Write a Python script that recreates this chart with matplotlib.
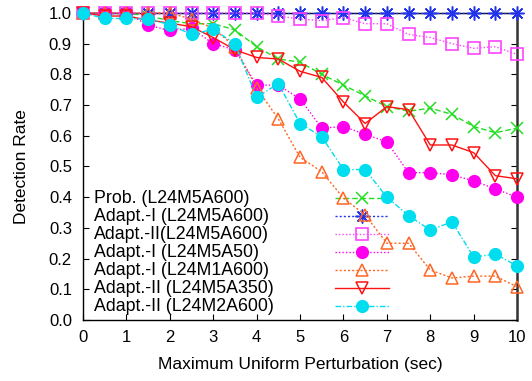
import matplotlib
matplotlib.use("Agg")

import matplotlib.pyplot as plt

plt.rcParams["font.family"] = ["Liberation Sans", "DejaVu Sans"]

x = [0, 0.5, 1, 1.5, 2, 2.5, 3, 3.5, 4, 4.5, 5, 5.5, 6, 6.5, 7, 7.5, 8, 8.5, 9, 9.5, 10]

prob_m5a600 = [1.0, 1.0, 1.0, 0.99, 0.975, 0.965, 0.965, 0.945, 0.89, 0.85, 0.84,
               0.80, 0.765, 0.73, 0.695, 0.68, 0.69, 0.67, 0.63, 0.61, 0.625]
ad1_m5a600 = [1.0] * 21
ad2_m5a600 = [1.0, 1.0, 1.0, 1.0, 1.0, 1.0, 1.0, 1.0, 1.0, 0.99, 0.98,
              0.975, 0.985, 0.965, 0.965, 0.93, 0.92, 0.90, 0.885, 0.89, 0.865]
ad1_m5a50 = [1.0, 1.0, 1.0, 0.96, 0.943, 0.95, 0.90, 0.88, 0.765, 0.765, 0.72,
             0.625, 0.63, 0.605, 0.58, 0.48, 0.48, 0.473, 0.453, 0.427, 0.40]
ad1_m1a600 = [1.0, 1.0, 1.0, 1.0, 1.0, 0.98, 0.95, 0.89, 0.755, 0.655, 0.53,
              0.483, 0.397, 0.342, 0.25, 0.25, 0.163, 0.137, 0.143, 0.143, 0.108]
ad2_m5a350 = [1.0, 0.99, 0.99, 0.977, 0.967, 0.955, 0.92, 0.88, 0.855, 0.85, 0.81,
              0.79, 0.71, 0.64, 0.695, 0.685, 0.57, 0.57, 0.545, 0.47, 0.46]
ad2_m2a600 = [1.0, 0.982, 0.982, 0.98, 0.962, 0.93, 0.947, 0.90, 0.725, 0.77, 0.64,
              0.597, 0.49, 0.49, 0.40, 0.34, 0.293, 0.32, 0.205, 0.215, 0.176]

series = [
    ("Prob. (L24M5A600)", prob_m5a600,
     dict(color="#22dd22", linestyle=(0, (4, 2)), marker="x", ms=8, mfc="none", mew=1.1)),
    ("Adapt.-I (L24M5A600)", ad1_m5a600,
     dict(color="#2233ee", linestyle=(0, (1.5, 1.5)), marker=(8, 2, 0), ms=10, mew=1.1)),
    ("Adapt.-II(L24M5A600)", ad2_m5a600,
     dict(color="#ff44ff", linestyle=(0, (1, 1.5)), marker="s", ms=8, mfc="none", mew=1.2)),
    ("Adapt.-I (L24M5A50)", ad1_m5a50,
     dict(color="#ff00ee", linestyle=(0, (1, 1.5)), marker="o", ms=9.5, mew=0)),
    ("Adapt.-I (L24M1A600)", ad1_m1a600,
     dict(color="#ff6622", linestyle=(0, (1.5, 1.5)), marker="^", ms=8, mfc="none", mew=1.1)),
    ("Adapt.-II (L24M5A350)", ad2_m5a350,
     dict(color="#ff1111", linestyle="-", marker="v", ms=8, mfc="none", mew=1.1)),
    ("Adapt.-II (L24M2A600)", ad2_m2a600,
     dict(color="#00ddee", linestyle=(0, (4, 1.5, 1, 1.5)), marker="o", ms=9.5, mew=0)),
]

fig = plt.figure(figsize=(5.32, 3.81), dpi=100)
ax = fig.add_axes([0.156, 0.160, 0.816, 0.806])

for label, ys, st in series:
    ax.plot(x, ys, lw=1.0, clip_on=False, zorder=3, **st)

# gnuplot style key: text left, sample line on the right
key_y0 = 0.397
key_dy = 0.0586
for i, (label, ys, st) in enumerate(series):
    yk = key_y0 - i * key_dy
    ax.text(0.026, yk, label, transform=ax.transAxes, ha="left", va="center", fontsize=12.8)
    line_st = {k: v for k, v in st.items() if k not in ("marker", "ms", "mfc", "mew")}
    ax.plot([0.58, 0.705], [yk, yk], transform=ax.transAxes, lw=1.0, **line_st)
    ax.plot([0.643], [yk], transform=ax.transAxes, linestyle="none",
            **{k: v for k, v in st.items() if k != "linestyle"})

ax.set_xlim(0, 10)
ax.set_ylim(0, 1.0)
ax.set_xticks(range(0, 11))
ax.set_yticks([i / 10 for i in range(11)])
ax.set_yticklabels([f"{i / 10:.1f}" for i in range(11)])
ax.tick_params(direction="in", top=True, right=True, labelsize=12, length=4)
ax.tick_params(axis="x", pad=7)
ax.tick_params(axis="y", pad=8)
ax.set_xlabel("Maximum Uniform Perturbation (sec)", fontsize=12.5, labelpad=9)
ax.set_ylabel("Detection Rate", fontsize=12.5, labelpad=14)
for s in ax.spines.values():
    s.set_linewidth(1.0)
ax.spines["right"].set_linewidth(1.8)
ax.spines["right"].set_color("#333333")

fig.savefig("out.png", dpi=100)
